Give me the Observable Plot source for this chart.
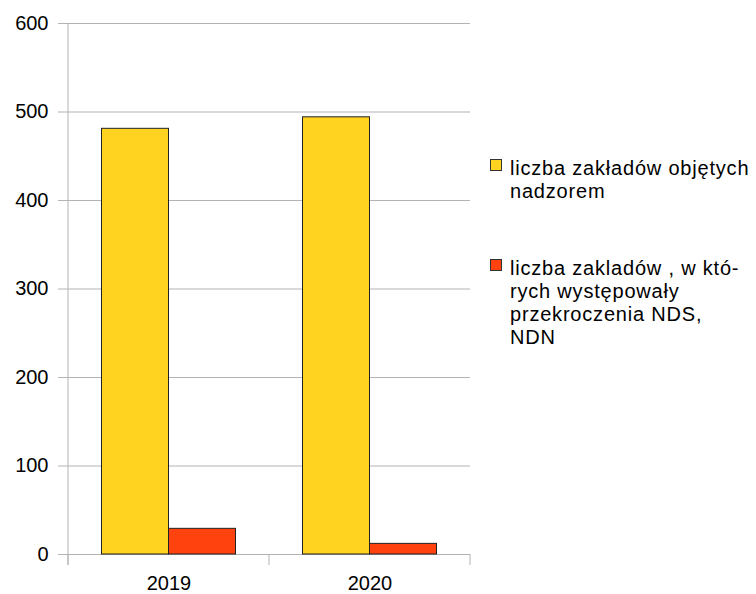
<!DOCTYPE html>
<html>
<head>
<meta charset="utf-8">
<script src="https://cdn.jsdelivr.net/npm/d3@7"></script>
<script src="https://cdn.jsdelivr.net/npm/@observablehq/plot@0.6"></script>
<style>
  html, body { margin: 0; padding: 0; background: #fff; }
  #wrap { position: relative; width: 756px; height: 594px; font-family: "Liberation Sans", Arial, sans-serif; }
  #legend { position: absolute; left: 490px; top: 157px; font-size: 20px; line-height: 23px; color: #000; letter-spacing: 0.8px; white-space: nowrap; }
  .item { position: relative; padding-left: 20px; }
  .item + .item { margin-top: 54px; }
  .sw { position: absolute; left: 0; top: 2px; width: 10px; height: 10px; border: 1px solid #333; }
</style>
</head>
<body>
<div id="wrap"><div id="legend"></div></div>
<script>
const years = ["2019", "2020"];
const seriesNames = ["liczba zakładów objętych nadzorem", "liczba zakladów , w których występowały przekroczenia NDS, NDN"];
const legendLines = [["liczba zakładów objętych", "nadzorem"], ["liczba zakladów , w któ-", "rych występowały", "przekroczenia NDS,", "NDN"]];
const supervised = [481, 494];
const exceeded = [29, 12];
const yTicks = [0, 100, 200, 300, 400, 500, 600];
const colors = ["#ffd320", "#ff420e"];

const W = 756, H = 594, ML = 68, MR = 286, MT = 23, MB = 40;
const bw = (W - ML - MR) / years.length;

const rows1 = years.map((y, i) => ({year: y, value: supervised[i], series: seriesNames[0]}));
const rows2 = years.map((y, i) => ({year: y, value: exceeded[i], series: seriesNames[1]}));

function structure(index, scales, values, dims) {
  const sx = scales.x, sy = scales.y;
  const b = (typeof sx.bandwidth === "function") ? sx.bandwidth() : bw;
  const y0 = sy(0);
  const g = d3.create("svg:g").attr("stroke", "#b3b3b3").attr("stroke-width", 1);
  const xs = years.map(d => sx(d)).concat([sx(years[years.length - 1]) + b]);
  xs.forEach(x => {
    g.append("line").attr("x1", x).attr("x2", x).attr("y1", y0).attr("y2", y0 + 11);
  });
  g.append("line").attr("x1", dims.marginLeft).attr("x2", dims.marginLeft)
    .attr("y1", sy(600)).attr("y2", y0 + 11);
  return g.node();
}

const chart = Plot.plot({
  width: W, height: H,
  marginLeft: ML, marginRight: MR, marginTop: MT, marginBottom: MB,
  style: {fontFamily: "'Liberation Sans', Arial, sans-serif", fontSize: "20px", color: "#000", background: "white", overflow: "visible"},
  x: {domain: years, padding: 0, label: null},
  y: {domain: [0, 600], label: null},
  marks: [
    Plot.gridY(yTicks, {stroke: "#b3b3b3", strokeOpacity: 1}),
    Plot.ruleY([0], {stroke: "#b3b3b3"}),
    Plot.axisY(yTicks, {tickSize: 10, tickPadding: 10, stroke: "#b3b3b3", fill: "#000", fontSize: 20, label: null}),
    Plot.axisX({tickSize: 0, tickPadding: 21, fill: "#000", fontSize: 20, label: null}),
    Plot.barY(rows1, {x: "year", y: "value", fill: colors[0], stroke: "#222", strokeWidth: 1, insetLeft: bw / 6, insetRight: bw / 2}),
    Plot.barY(rows2, {x: "year", y: "value", fill: colors[1], stroke: "#222", strokeWidth: 1, insetLeft: bw / 2, insetRight: bw / 6}),
    structure
  ]
});
document.getElementById("wrap").prepend(chart);
chart.style.position = "absolute"; chart.style.left = "0"; chart.style.top = "0";

const legend = document.getElementById("legend");
legendLines.forEach((lines, i) => {
  const it = document.createElement("div");
  it.className = "item";
  const sw = document.createElement("span");
  sw.className = "sw"; sw.style.background = colors[i];
  it.appendChild(sw);
  lines.forEach(l => { const d = document.createElement("div"); d.textContent = l; it.appendChild(d); });
  legend.appendChild(it);
});
</script>
</body>
</html>
